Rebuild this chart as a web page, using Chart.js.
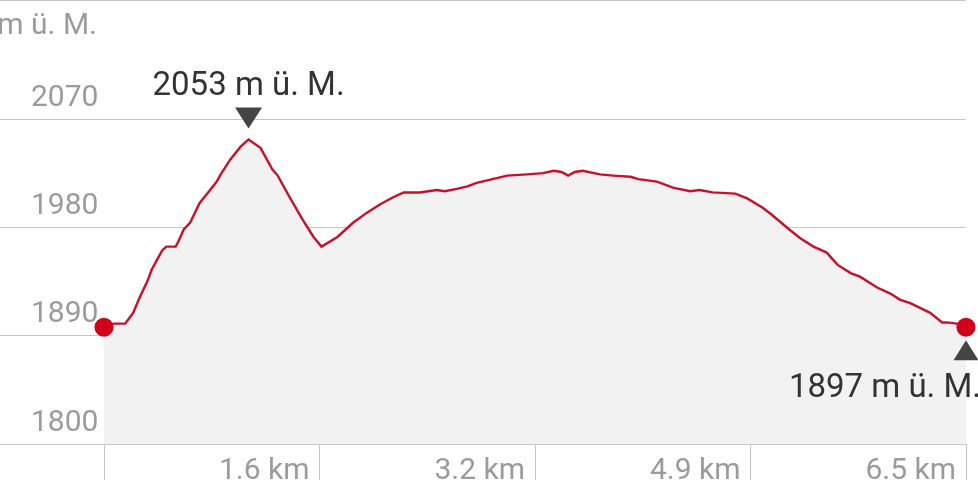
<!DOCTYPE html>
<html>
<head>
<meta charset="utf-8">
<script src="https://cdn.jsdelivr.net/npm/chart.js@4/dist/chart.umd.min.js"></script>
<style>
  html, body { margin: 0; padding: 0; background: #fff; }
  #wrap { width: 978px; height: 480px; }
</style>
</head>
<body>
<div id="wrap"><canvas id="Elevation"></canvas></div>
<script>
// Route profile: distance (km) and elevation (m ü. M.)
const distances = [0, 0.07, 0.16, 0.22, 0.27, 0.33, 0.36, 0.41, 0.44, 0.47, 0.54, 0.56, 0.60, 0.65, 0.72,
  0.80, 0.85, 0.88, 0.95, 1.03, 1.09, 1.18, 1.27, 1.31, 1.40, 1.50, 1.58, 1.64, 1.76, 1.88, 1.98,
  2.08, 2.18, 2.26, 2.38, 2.51, 2.57, 2.66, 2.74, 2.81, 2.89, 3.04, 3.19, 3.31, 3.39, 3.45, 3.50,
  3.55, 3.61, 3.74, 3.84, 3.97, 4.03, 4.17, 4.29, 4.42, 4.49, 4.59, 4.76, 4.85, 4.97, 5.04, 5.17,
  5.25, 5.35, 5.45, 5.53, 5.63, 5.70, 5.83, 5.93, 6.00, 6.08, 6.23, 6.32, 6.36, 6.43, 6.50];
const elevations = [1897, 1900, 1900, 1909, 1922, 1936, 1945, 1955, 1961, 1964, 1964, 1968, 1978, 1984, 2000,
  2011, 2018, 2024, 2036, 2047, 2053, 2046, 2028, 2023, 2005, 1986, 1972, 1964, 1972, 1984, 1992,
  1999, 2005, 2009, 2009, 2011, 2010, 2012, 2014, 2017, 2019, 2023, 2024, 2025, 2027, 2026, 2023,
  2026, 2027, 2024, 2023, 2022, 2020, 2018, 2013, 2010, 2011, 2009, 2008, 2004, 1996, 1990, 1978,
  1971, 1964, 1959, 1949, 1942, 1939, 1930, 1925, 1920, 1917, 1909, 1901, 1901, 1900, 1897];

const yTicks = [1800, 1890, 1980, 2070];
const xTicks = [0, 1.625, 3.25, 4.875, 6.5];
const xTickLabels = ['', '1.6 km', '3.2 km', '4.9 km', '6.5 km'];
const unit = 'm ü. M.';

const red = '#d0021b';
const lineRed = '#c8102a';
const gridColor = '#c6c6c6';
const labelColor = '#9b9b9b';
const darkText = '#333333';
const fontFamily = 'Roboto, "Noto Sans", sans-serif';

// the plot area runs from x=0 so the grid lines reach the left edge;
// the profile itself starts 104px in
const xMax = xTicks[xTicks.length - 1];
const xMin = -xMax * 104 / (966 - 104);
const yMin = yTicks[0];
const yMax = yMin + 444 * 270 / 325;

const last = elevations.length - 1;

// no extra room for tick labels, the area is placed by hand
function noPadding(s) {
    s.paddingTop = 0;
    s.paddingBottom = 0;
    s.paddingLeft = 0;
    s.paddingRight = 0;
}

// labels for the highest point and the finish
const markers = {
    id: 'markers',
    afterDraw(chart) {
        const ctx = chart.ctx;
        const x = chart.scales.x, y = chart.scales.y;
        ctx.save();

        ctx.fillStyle = labelColor;
        ctx.font = '30px ' + fontFamily;
        ctx.textAlign = 'right';
        ctx.textBaseline = 'alphabetic';
        ctx.fillText(unit, 97, 34);

        const top = elevations.indexOf(Math.max(...elevations));
        let px = x.getPixelForValue(distances[top]);
        let py = y.getPixelForValue(elevations[top]);
        ctx.fillStyle = '#444444';
        ctx.beginPath();
        ctx.moveTo(px, py - 11);
        ctx.lineTo(px - 13.5, py - 32);
        ctx.lineTo(px + 13.5, py - 32);
        ctx.closePath();
        ctx.fill();
        ctx.fillStyle = darkText;
        ctx.font = '33px ' + fontFamily;
        ctx.textAlign = 'center';
        ctx.fillText(elevations[top] + ' ' + unit, px, py - 44);

        px = x.getPixelForValue(distances[last]);
        py = y.getPixelForValue(elevations[last]);
        ctx.fillStyle = '#444444';
        ctx.beginPath();
        ctx.moveTo(px, py + 13);
        ctx.lineTo(px - 12.5, py + 33);
        ctx.lineTo(px + 12.5, py + 33);
        ctx.closePath();
        ctx.fill();
        ctx.fillStyle = darkText;
        ctx.textAlign = 'right';
        ctx.fillText(elevations[last] + ' ' + unit, px + 15, py + 70);

        ctx.restore();
    }
};

new Chart("Elevation", {
    type: "line",
    data: {
        datasets: [{
            label: "Höhenprofil",
            data: distances.map((d, i) => ({ x: d, y: elevations[i] })),
            borderColor: lineRed,
            borderWidth: 2.4,
            backgroundColor: '#f2f2f2',
            fill: 'start',
            tension: 0,
            pointRadius: (c) => (c.dataIndex === 0 || c.dataIndex === last) ? 9.5 : 0,
            pointBackgroundColor: red,
            pointBorderWidth: 0,
            clip: false
        }]
    },
    options: {
        animation: false,
        maintainAspectRatio: false,
        layout: {
            autoPadding: false,
            padding: { left: 0, right: 12, top: 0, bottom: 0 }
        },
        plugins: {
            legend: { display: false },
            tooltip: { enabled: false }
        },
        scales: {
            x: {
                type: 'linear',
                min: xMin,
                max: xMax,
                afterBuildTicks: (s) => { s.ticks = xTicks.map(v => ({ value: v })); },
                afterFit: (s) => { s.height = 36; noPadding(s); },
                grid: {
                    drawOnChartArea: false,
                    drawTicks: true,
                    tickLength: 36,
                    color: gridColor
                },
                border: { display: true, color: gridColor },
                ticks: {
                    align: 'end',
                    labelOffset: -10,
                    padding: -27,
                    maxRotation: 0,
                    autoSkip: false,
                    color: labelColor,
                    font: { family: fontFamily, size: 30 },
                    callback: (v, i) => xTickLabels[i]
                }
            },
            y: {
                type: 'linear',
                min: yMin,
                max: yMax,
                afterBuildTicks: (s) => { s.ticks = [...yTicks, yMax].map(v => ({ value: v })); },
                afterFit: (s) => { s.width = 0; noPadding(s); },
                grid: {
                    drawTicks: false,
                    color: gridColor
                },
                border: { display: false },
                ticks: {
                    mirror: true,
                    padding: 31,
                    labelOffset: -21,
                    color: labelColor,
                    font: { family: fontFamily, size: 30 },
                    callback: (v) => yTicks.includes(v) ? String(v) : ''
                }
            }
        }
    },
    plugins: [markers]
});
</script>
</body>
</html>
